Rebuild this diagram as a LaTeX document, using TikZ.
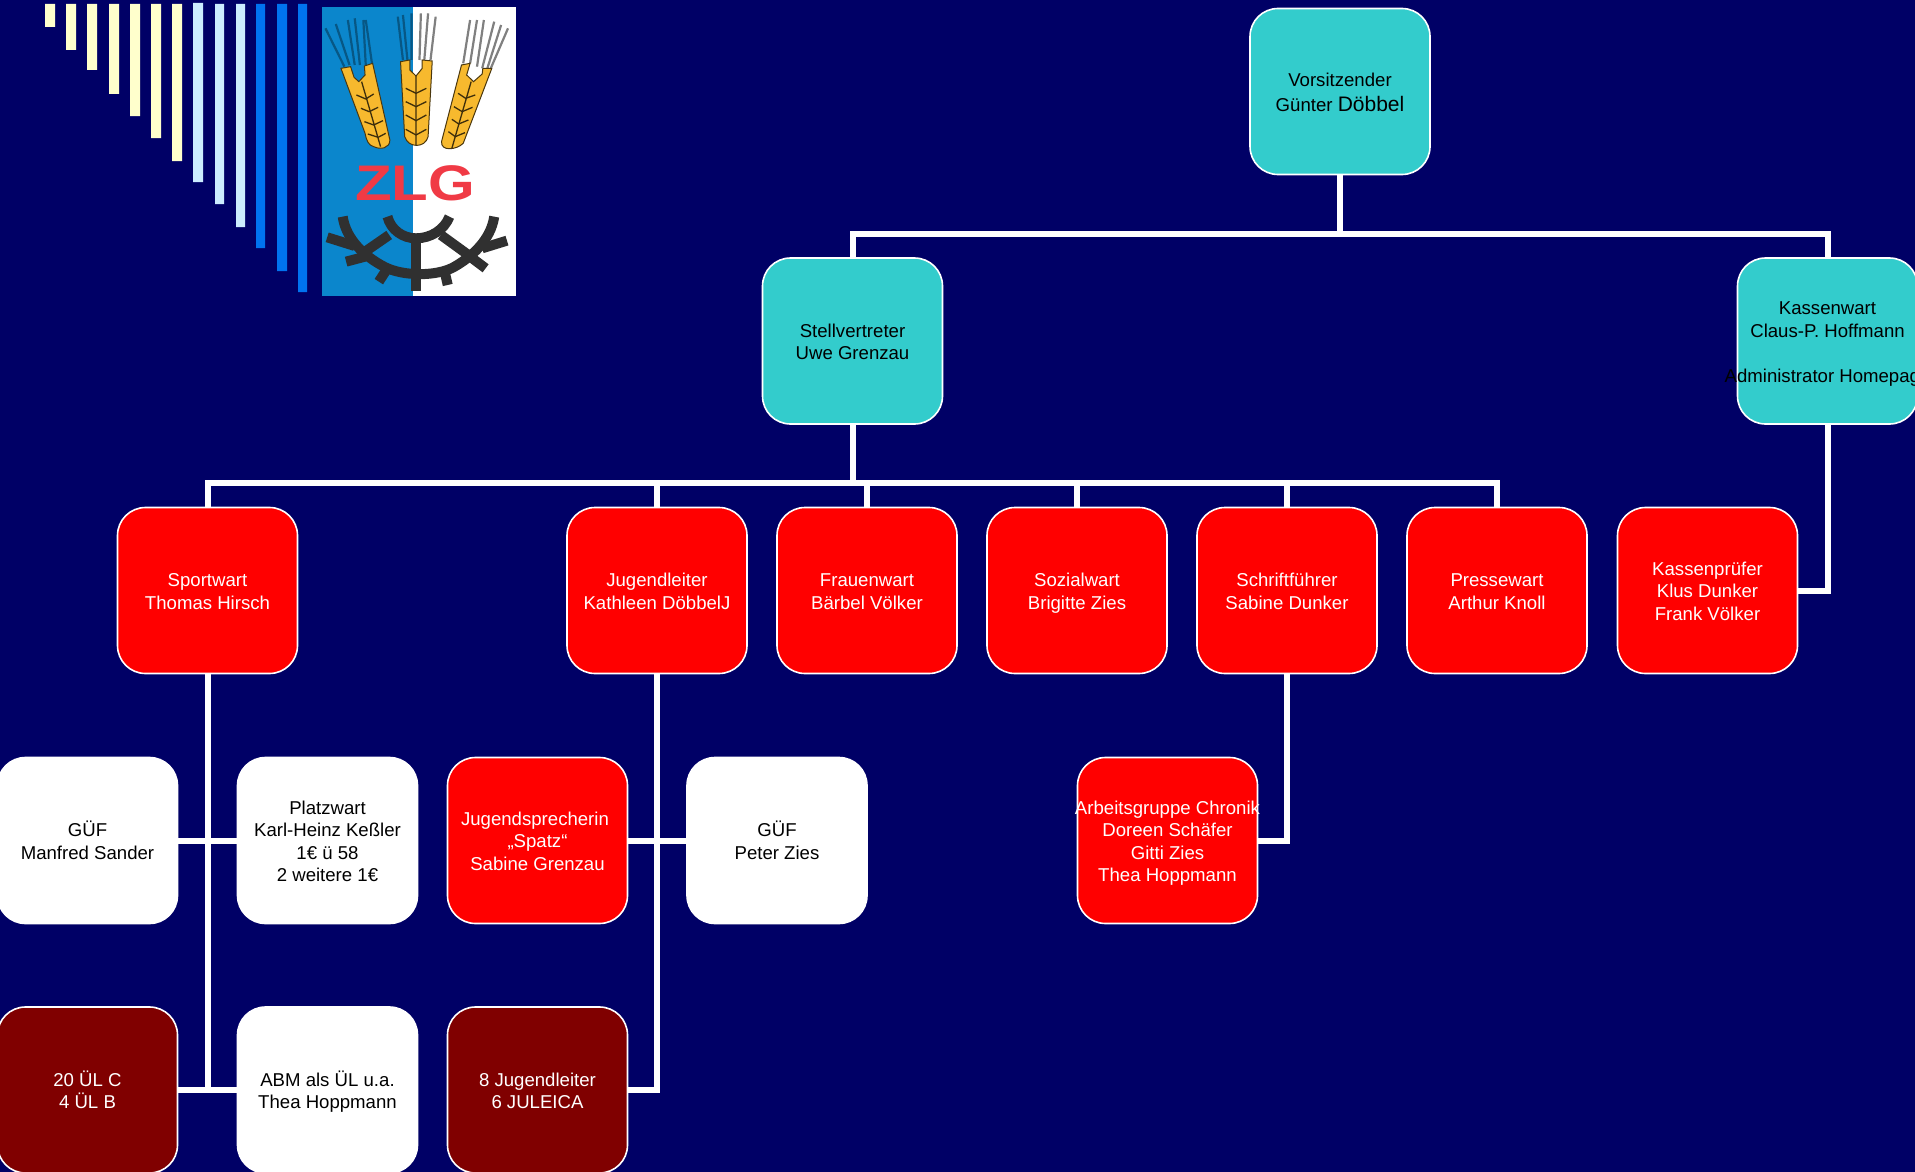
\documentclass[tikz,border=0pt]{standalone}
\usepackage{fontspec}
\setmainfont{Liberation Sans}
\definecolor{bg}{HTML}{000066}
\definecolor{teal}{HTML}{33CCCC}
\definecolor{darkred}{HTML}{800000}
\definecolor{cream}{HTML}{FFFFCC}
\definecolor{lblue}{HTML}{CCECFF}
\definecolor{mblue}{HTML}{0073F0}
\definecolor{logoblue}{HTML}{0B86CC}
\definecolor{logored}{HTML}{F03A45}
\definecolor{gold}{HTML}{F7B92E}
\definecolor{gear}{HTML}{303030}
\newcommand{\overhang}[1]{\makebox[0pt][c]{#1}}
\newcommand{\topline}{\rule{0pt}{21.7pt}}
\tikzset{
  box/.style={rectangle,rounded corners=28pt,minimum width=180pt,minimum height=166pt,inner sep=0pt,align=center,font=\fontsize{18.6}{22.4}\selectfont,draw=white,line width=1.6pt,execute at end node=\strut},
  tealbox/.style={box,fill=teal,text=black},
  redbox/.style={box,fill=red,text=white},
  whitebox/.style={box,fill=white,text=black},
  darkbox/.style={box,fill=darkred,text=white},
  link/.style={draw=white,line width=6pt},
  ear/.style={fill=gold,draw=black!70!gold,line width=1pt},
  awn/.style={line width=2.2pt,draw=black!50},
  barb/.style={line width=1.3pt,draw=black!75!gold},
  geartooth/.style={line width=10pt,draw=gear},
}
\begin{document}
\begin{tikzpicture}[x=1pt,y=-1pt]
\useasboundingbox (0,0) rectangle (1915,1172);
\fill[bg] (0,0) rectangle (1915,1172);
% bars
\fill[cream] (45,4) rectangle (55,27) (66,4) rectangle (76,50) (87,4) rectangle (97,70) (109,4) rectangle (119,94) (130,4) rectangle (140,116) (151,4) rectangle (161,138) (172,4) rectangle (182,161);
\fill[lblue] (193,3) rectangle (203,182) (215,4) rectangle (224,204) (236,4) rectangle (245,227);
\fill[mblue] (256,4) rectangle (265,248) (277,4) rectangle (287,271) (298,4) rectangle (307,292);
% logo
\begin{scope}[xscale=0.3444,yscale=0.3333]
\fill[white] (935,21) rectangle (1498,888);
\fill[logoblue] (935,21) rectangle (1200,888);
\draw[awn,draw=black!35!logoblue] (1000,200)--(945,85) (1015,195)--(975,72) (1030,195)--(1010,60) (1045,195)--(1030,55) (1062,195)--(1055,60) (1080,190)--(1062,60);
\draw[awn,draw=black!35!logoblue] (1170,180)--(1155,50) (1183,180)--(1170,45) (1195,180)--(1195,40);
\draw[awn] (1218,180)--(1222,40) (1232,180)--(1243,40) (1250,180)--(1265,50);
\draw[awn] (1345,190)--(1365,60) (1365,190)--(1385,60) (1385,200)--(1405,60) (1400,205)--(1435,65) (1415,205)--(1455,75) (1425,205)--(1475,85);
\draw[ear] (990,205)--(1018,200)--(1028,232)--(1042,245)--(1060,225)--(1058,198)--(1082,190)--(1132,420) .. controls (1132,445) and (1105,450) .. (1085,440) .. controls (1070,435) and (1065,425) .. (1060,400)--cycle;
\draw[ear] (1163,185)--(1190,180)--(1190,210)--(1208,228)--(1226,205)--(1226,180)--(1255,183)--(1243,410) .. controls (1235,445) and (1185,445) .. (1175,410)--cycle;
\draw[ear] (1340,195)--(1365,190)--(1355,225)--(1375,245)--(1400,222)--(1402,205)--(1428,205)--(1345,430) .. controls (1325,450) and (1280,455) .. (1282,425)--cycle;
\draw[barb] (1050,245)--(1105,440) (1208,228)--(1208,436) (1368,245)--(1312,445);
\draw[barb] (1035,285)--(1062,297)--(1085,282) (1048,325)--(1072,335)--(1098,322) (1058,365)--(1085,375)--(1112,362) (1068,402)--(1098,412)--(1120,400);
\draw[barb] (1178,265)--(1208,280)--(1238,265) (1178,305)--(1208,320)--(1238,305) (1178,345)--(1208,362)--(1238,345) (1178,388)--(1208,405)--(1238,388);
\draw[barb] (1330,280)--(1352,295)--(1380,285) (1318,320)--(1342,335)--(1372,322) (1312,358)--(1332,372)--(1360,360) (1302,395)--(1322,410)--(1350,398);
\node[text=logored,font=\fontsize{50}{50}\bfseries\selectfont,inner sep=0pt,xscale=1.2,yscale=1.0] (zlg) at (1205,551) {ZLG};
\draw[line width=10pt,draw=gear] (995,650) .. controls (1005,720) and (1060,770) .. (1115,800) .. controls (1170,830) and (1270,830) .. (1320,800) .. controls (1370,770) and (1425,720) .. (1435,650);
\draw[line width=10pt,draw=gear] (1125,650) .. controls (1135,690) and (1170,715) .. (1208,715) .. controls (1250,715) and (1290,690) .. (1305,650);
\draw[line width=10pt,draw=gear] (1130,705)--(1060,755) (1280,705)--(1360,765);
\draw[line width=10pt,draw=gear] (1208,715)--(1208,872);
\draw[geartooth] (950,712)--(1030,738) (1005,785)--(1060,770) (1100,845)--(1125,805) (1300,855)--(1290,810) (1410,805)--(1365,770) (1472,722)--(1400,745);
\end{scope}
% nodes
\node[tealbox] (vors) at (1340,91.5) {\topline Vorsitzender\\[3.5pt]Günter {\fontsize{21}{22.4}\selectfont Döbbel}};
\node[tealbox] (stell) at (852.5,341) {\topline Stellvertreter\\Uwe Grenzau};
\node[tealbox] (kasse) at (1827.5,341) {\topline Kassenwart\\Claus-P. Hoffmann\\ \\\overhang{Administrator Homepage}};
\node[redbox] (sport) at (207.5,590.5) {\topline Sportwart\\Thomas Hirsch};
\node[redbox] (jugend) at (657,590.5) {\topline Jugendleiter\\Kathleen DöbbelJ};
\node[redbox] (frauen) at (867,590.5) {\topline Frauenwart\\Bärbel Völker};
\node[redbox] (sozial) at (1077,590.5) {\topline Sozialwart\\Brigitte Zies};
\node[redbox] (schrift) at (1287,590.5) {\topline Schriftführer\\Sabine Dunker};
\node[redbox] (presse) at (1497,590.5) {\topline Pressewart\\Arthur Knoll};
\node[redbox] (pruefer) at (1707.5,590.5) {\topline Kassenprüfer\\Klus Dunker\\Frank Völker};
\node[whitebox] (guef1) at (87.5,840.5) {\topline GÜF\\Manfred Sander};
\node[whitebox] (platz) at (327.5,840.5) {\topline Platzwart\\Karl-Heinz Keßler\\1€ ü 58\\2 weitere 1€};
\node[redbox] (spatz) at (537.5,840.5) {\topline Jugendsprecherin\kern5pt\\„Spatz“\\Sabine Grenzau};
\node[whitebox] (guef2) at (777,840.5) {\topline GÜF\\Peter Zies};
\node[redbox] (chronik) at (1167.5,840.5) {\topline\overhang{Arbeitsgruppe Chronik}\\Doreen Schäfer\\Gitti Zies\\Thea Hoppmann};
\node[darkbox] (uel) at (87.5,1090) {\topline 20 ÜL C\\4 ÜL B};
\node[whitebox] (abm) at (327.5,1090) {\topline ABM als ÜL u.a.\\Thea Hoppmann};
\node[darkbox] (juleica) at (537.5,1090) {\topline 8 Jugendleiter\\6 JULEICA};
% connectors
\coordinate (bus1) at (1340,233.5);
\coordinate (bus2) at (852.5,482.5);
\draw[link] (vors.south) -- (bus1);
\draw[link] (stell.north) |- (bus1) -| (kasse.north);
\draw[link] (stell.south) -- (bus2);
\draw[link] (sport.north) |- (bus2) -| (presse.north);
\draw[link] (jugend.north) -- (jugend.north |- bus2);
\draw[link] (frauen.north) -- (frauen.north |- bus2);
\draw[link] (sozial.north) -- (sozial.north |- bus2);
\draw[link] (schrift.north) -- (schrift.north |- bus2);
\draw[link] (kasse.south) |- (pruefer.east);
\draw[link] (sport.south) |- (abm.west);
\draw[link] (uel.east) -- (abm.west);
\draw[link] (guef1.east) -- (platz.west);
\draw[link] (jugend.south) |- (juleica.east);
\draw[link] (spatz.east) -- (guef2.west);
\draw[link] (schrift.south) |- (chronik.east);
\end{tikzpicture}
\end{document}
